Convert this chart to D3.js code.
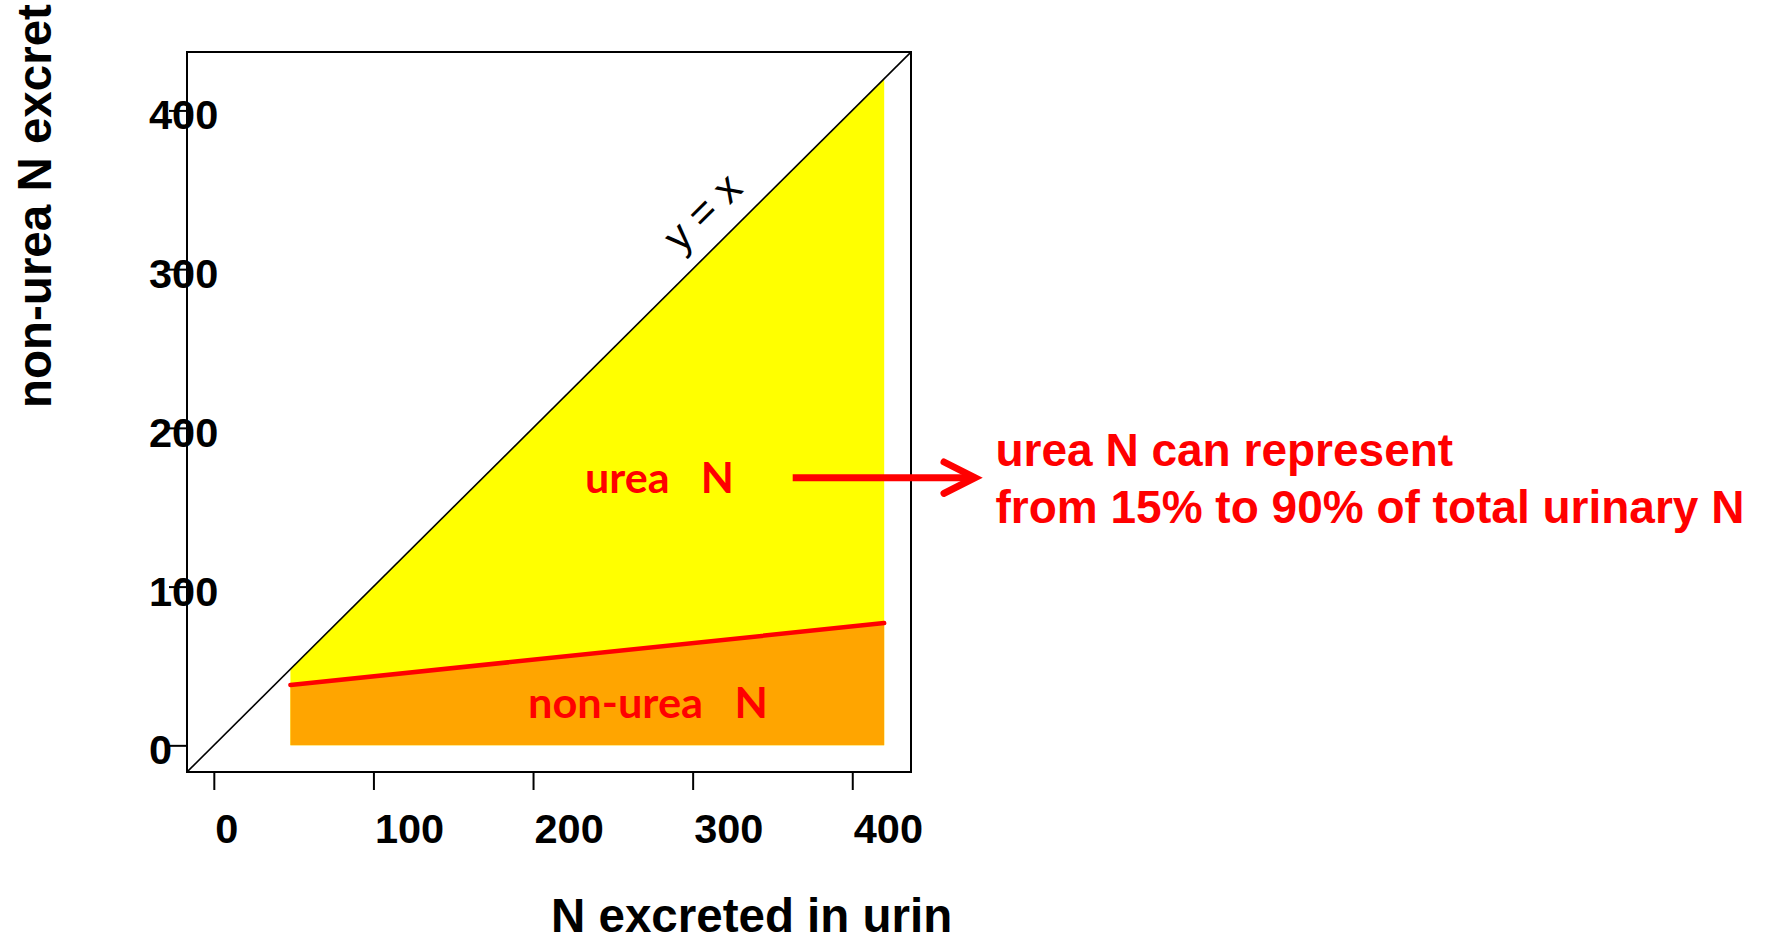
<!DOCTYPE html>
<html>
<head>
<meta charset="utf-8">
<script src="https://cdn.jsdelivr.net/npm/d3@7"></script>
<style>
  html, body { margin: 0; padding: 0; background: #fff; }
  svg text { white-space: pre; }
</style>
</head>
<body>
<svg id="chart" width="1788" height="943"></svg>
<script>
// ---- data ----
const xTicks = [0, 100, 200, 300, 400];
const yTicks = [0, 100, 200, 300, 400];
const axisLimits = [0, 420];              // R-style limits, extended by 4%
const regionX = [48, 420];                // range of total urinary N shown
const nonUreaY = [38, 77];                // non-urea N at each end of regionX
const identityX = [-16.8, 436.8];         // y = x line across the plot
const xTitle = "N excreted in urin";
const yTitle = "non-urea N excret";
const noteLines = ["urea N can represent", "from 15% to 90% of total urinary N"];

// ---- layout ----
const svg = d3.select("#chart");
const ext = (axisLimits[1] - axisLimits[0]) * 0.04;
const dom = [axisLimits[0] - ext, axisLimits[1] + ext];
const x = d3.scaleLinear().domain(dom).range([187, 911]);
const y = d3.scaleLinear().domain(dom).range([772, 52]);
const arial = "'Liberation Sans', Arial, Helvetica, sans-serif";
const calibri = "Lato, 'Open Sans', sans-serif";

svg.append("defs").append("clipPath").attr("id", "clip")
  .append("rect").attr("x", 187).attr("y", 52).attr("width", 724).attr("height", 720);

const plot = svg.append("g").attr("clip-path", "url(#clip)");

// yellow (urea N) region: between y = x and 0
const yellowPts = [[regionX[0], 0], [regionX[0], regionX[0]], [regionX[1], regionX[1]], [regionX[1], 0]];
plot.append("path")
  .attr("d", d3.line().x(d => x(d[0])).y(d => y(d[1]))(yellowPts) + "Z")
  .attr("fill", "#FFFF00");

// orange (non-urea N) region
const orangePts = [[regionX[0], 0], [regionX[0], nonUreaY[0]], [regionX[1], nonUreaY[1]], [regionX[1], 0]];
plot.append("path")
  .attr("d", d3.line().x(d => x(d[0])).y(d => y(d[1]))(orangePts) + "Z")
  .attr("fill", "#FFA500");

// red boundary line
plot.append("path")
  .attr("d", d3.line().x(d => x(d[0])).y(d => y(d[1]))([[regionX[0], nonUreaY[0]], [regionX[1], nonUreaY[1]]]))
  .attr("stroke", "#FF0000").attr("stroke-width", 4.5).attr("fill", "none").attr("stroke-linecap", "round");

// y = x line
plot.append("path")
  .attr("d", d3.line().x(d => x(d)).y(d => y(d))(identityX))
  .attr("stroke", "#000").attr("stroke-width", 1.6).attr("fill", "none");

// x axis
const gx = svg.append("g").attr("transform", "translate(0,772)")
  .call(d3.axisBottom(x).tickValues(xTicks).tickSize(18).tickSizeOuter(0).tickFormat(d3.format("d")));
gx.select(".domain").remove();
gx.selectAll(".tick line").attr("stroke", "#000").attr("stroke-width", 2);
gx.selectAll(".tick text")
  .attr("text-anchor", "start").attr("x", 1).attr("y", 71).attr("dy", 0)
  .attr("font-family", arial).attr("font-weight", "bold").attr("font-size", 41.5).attr("fill", "#000");

// y axis
const gy = svg.append("g").attr("transform", "translate(187,0)")
  .call(d3.axisLeft(y).tickValues(yTicks).tickSize(18).tickSizeOuter(0).tickFormat(d3.format("d")));
gy.select(".domain").remove();
gy.selectAll(".tick text")
  .attr("text-anchor", "start").attr("x", -38).attr("y", 18.5).attr("dy", 0)
  .attr("font-family", arial).attr("font-weight", "bold").attr("font-size", 41.5).attr("fill", "#000");
gy.selectAll(".tick line").attr("stroke", "#000").attr("stroke-width", 2).raise();

// box (drawn over tick labels, as in the reference)
svg.append("rect").attr("x", 187).attr("y", 52).attr("width", 724).attr("height", 720)
  .attr("fill", "none").attr("stroke", "#000").attr("stroke-width", 2);

// axis titles
svg.append("text").text(xTitle)
  .attr("x", 551).attr("y", 932)
  .attr("font-family", arial).attr("font-weight", "bold").attr("font-size", 47.5).attr("fill", "#000");
svg.append("text").text(yTitle)
  .attr("transform", "translate(51,408) rotate(-90)")
  .attr("font-family", arial).attr("font-weight", "bold").attr("font-size", 47.5).attr("fill", "#000");

// y = x label
const ang = Math.atan2(y(0) - y(100), x(100) - x(0)) * 180 / Math.PI;
svg.append("text").text("y = x")
  .attr("transform", `translate(${x(306)},${y(336)}) rotate(${-ang})`)
  .attr("text-anchor", "middle").attr("dominant-baseline", "central")
  .attr("font-family", arial).attr("font-size", 42).attr("fill", "#000");

// region labels
svg.append("text").attr("xml:space", "preserve").text("urea   N")
  .attr("x", 585).attr("y", 492.7)
  .attr("textLength", 149).attr("lengthAdjust", "spacingAndGlyphs")
  .attr("font-family", calibri).attr("font-weight", "bold").attr("font-size", 42).attr("fill", "#FF0000");
svg.append("text").attr("xml:space", "preserve").text("non-urea   N")
  .attr("x", 528).attr("y", 718.3)
  .attr("textLength", 240).attr("lengthAdjust", "spacingAndGlyphs")
  .attr("font-family", calibri).attr("font-weight", "bold").attr("font-size", 42).attr("fill", "#FF0000");

// arrow
svg.append("line").attr("x1", 792.7).attr("y1", 477.7).attr("x2", 972).attr("y2", 477.7)
  .attr("stroke", "#FF0000").attr("stroke-width", 7);
svg.append("polyline").attr("points", "944,462 975,477.7 944,493.4")
  .attr("fill", "none").attr("stroke", "#FF0000").attr("stroke-width", 7)
  .attr("stroke-linecap", "round").attr("stroke-linejoin", "miter");

// note
const note = svg.append("text")
  .attr("font-family", arial).attr("font-weight", "bold").attr("font-size", 46).attr("fill", "#FF0000");
noteLines.forEach((t, i) => {
  note.append("tspan").attr("x", 995.5).attr("y", 466 + i * 57).text(t);
});
</script>
</body>
</html>
